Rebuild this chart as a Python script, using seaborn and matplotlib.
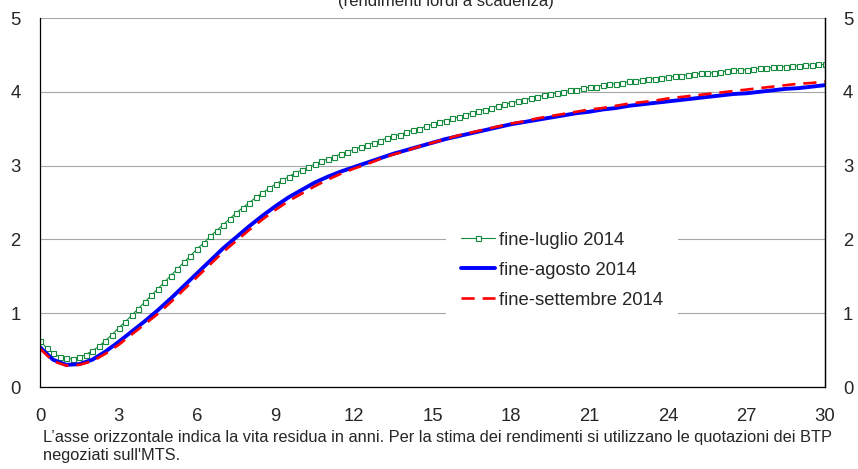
import matplotlib
matplotlib.use("Agg")
import matplotlib.pyplot as plt
import seaborn as sns
import numpy as np
import pandas as pd

# residual maturity (years) and yields
x_luglio = np.arange(0, 30.01, 0.25)
fine_luglio = [
    0.63, 0.53, 0.46, 0.41,
    0.39, 0.38, 0.40, 0.44,
    0.49, 0.55, 0.63, 0.71,
    0.80, 0.88, 0.97, 1.06,
    1.15, 1.24, 1.33, 1.42,
    1.51, 1.60, 1.69, 1.78,
    1.87, 1.95, 2.04, 2.12,
    2.20, 2.28, 2.36, 2.43,
    2.50, 2.57, 2.63, 2.69,
    2.75, 2.80, 2.85, 2.90,
    2.94, 2.98, 3.02, 3.06,
    3.09, 3.12, 3.16, 3.19,
    3.22, 3.25, 3.28, 3.31,
    3.34, 3.37, 3.40, 3.42,
    3.45, 3.48, 3.50, 3.53,
    3.56, 3.59, 3.61, 3.64,
    3.66, 3.69, 3.71, 3.74,
    3.76, 3.78, 3.81, 3.83,
    3.85, 3.87, 3.89, 3.91,
    3.93, 3.95, 3.97, 3.98,
    4.00, 4.02, 4.03, 4.05,
    4.06, 4.07, 4.09, 4.10,
    4.11, 4.12, 4.14, 4.15,
    4.16, 4.17, 4.18, 4.19,
    4.20, 4.21, 4.22, 4.23,
    4.24, 4.25, 4.25, 4.26,
    4.27, 4.28, 4.29, 4.29,
    4.30, 4.31, 4.32, 4.32,
    4.33, 4.34, 4.34, 4.35,
    4.35, 4.36, 4.36, 4.37,
    4.37,
]

x_mesi = np.arange(0, 30.01, 0.5)
fine_agosto = [
    0.54, 0.37, 0.30, 0.31, 0.37, 0.48, 0.61, 0.75, 0.89, 1.04,
    1.20, 1.37, 1.54, 1.71, 1.88, 2.03, 2.18, 2.32, 2.45, 2.57,
    2.67, 2.77, 2.85, 2.92, 2.98, 3.04, 3.10, 3.16, 3.21, 3.26,
    3.31, 3.36, 3.40, 3.44, 3.48, 3.52, 3.56, 3.59, 3.62, 3.65,
    3.68, 3.71, 3.73, 3.76, 3.78, 3.81, 3.83, 3.85, 3.87, 3.89,
    3.91, 3.93, 3.95, 3.97, 3.98, 4.00, 4.02, 4.04, 4.05, 4.07,
    4.09,
]
fine_settembre = [
    0.52, 0.35, 0.29, 0.30, 0.35, 0.45, 0.57, 0.71, 0.85, 0.99,
    1.15, 1.32, 1.49, 1.66, 1.83, 1.98, 2.13, 2.27, 2.40, 2.52,
    2.62, 2.72, 2.81, 2.89, 2.96, 3.02, 3.09, 3.15, 3.20, 3.26,
    3.31, 3.36, 3.41, 3.45, 3.49, 3.53, 3.57, 3.60, 3.64, 3.67,
    3.70, 3.73, 3.76, 3.78, 3.81, 3.84, 3.86, 3.88, 3.91, 3.93,
    3.95, 3.97, 3.99, 4.01, 4.03, 4.05, 4.07, 4.09, 4.11, 4.12,
    4.14,
]

labels = ['fine-luglio 2014', 'fine-agosto 2014', 'fine-settembre 2014']
xticks = list(range(0, 31, 3))
yticks = [0, 1, 2, 3, 4, 5]

sns.set_style("white")
plt.rcParams['font.family'] = ['Liberation Sans', 'DejaVu Sans']

f = plt.figure(figsize=(8.58, 4.69), dpi=100)
ax = f.add_axes([40/858, 1-387/469, 785/858, 369/469])

sns.lineplot(x=x_luglio, y=fine_luglio, ax=ax, color='#148a3c', linewidth=0.8,
             marker='s', markersize=3.6, markerfacecolor='white',
             markeredgecolor='#148a3c', markeredgewidth=0.8, label=labels[0])
sns.lineplot(x=x_mesi, y=fine_agosto, ax=ax, color='#0000ff', linewidth=2.8,
             label=labels[1])
sns.lineplot(x=x_mesi, y=fine_settembre, ax=ax, color='#ff0000', linewidth=1.9,
             dashes=(5, 3), label=labels[2])

ax.set_xlim(0, 30)
ax.set_ylim(0, 5)
ax.set_xticks(xticks)
ax.set_yticks(yticks)
ax.yaxis.grid(True, color='#a6a6a6', linewidth=0.8)
ax.set_axisbelow(True)
ax.tick_params(axis='x', direction='in', length=5, width=0.8, color='black',
               pad=15, labelsize=13.3)
ax.tick_params(axis='y', length=0, pad=14, labelsize=13.3)
for side in ['left', 'bottom', 'right']:
    ax.spines[side].set_color('black')
    ax.spines[side].set_linewidth(0.9)
ax.spines['top'].set_visible(False)
ax.set_xlabel('')
ax.set_ylabel('')

ax2 = ax.twinx()
ax2.set_ylim(0, 5)
ax2.set_yticks(yticks)
ax2.tick_params(axis='y', length=0, pad=13, labelsize=13.3)
for side in ['left', 'bottom', 'top']:
    ax2.spines[side].set_visible(False)
ax2.spines['right'].set_color('black')
ax2.spines['right'].set_linewidth(0.9)

leg = ax.legend(loc='upper left', bbox_to_anchor=((446-40)/785, (387-217)/369),
                borderaxespad=0, frameon=True, fancybox=False, framealpha=1,
                facecolor='white', edgecolor='none', fontsize=13.3,
                handlelength=1.85, handletextpad=0.22, labelspacing=0.7,
                borderpad=0.8, numpoints=1)

f.text(446/858, 1-6/469, '(rendimenti lordi a scadenza)', ha='center',
       va='baseline', fontsize=12)
f.text(43/858, 1-442/469,
       "L\u2019asse orizzontale indica la vita residua in anni. Per la stima dei rendimenti si utilizzano le quotazioni dei BTP",
       ha='left', va='baseline', fontsize=11.8)
f.text(43/858, 1-460/469, "negoziati sull'MTS.",
       ha='left', va='baseline', fontsize=11.8)

plt.savefig('out.png', dpi=100)
